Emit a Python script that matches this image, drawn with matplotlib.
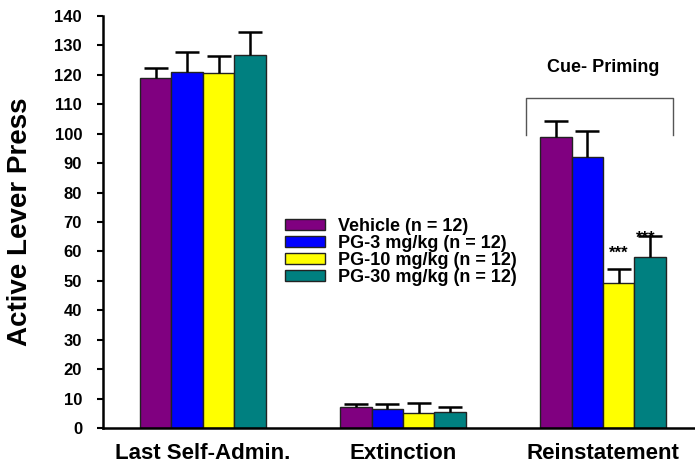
import matplotlib
matplotlib.use("Agg")
import matplotlib.pyplot as plt
import numpy as np

plt.rcParams['font.family'] = ['Liberation Sans', 'DejaVu Sans']
plt.rcParams['font.weight'] = 'bold'

# donnees
phases = ["Last Self-Admin.", "Extinction", "Reinstatement"]
groupes = ["Vehicle (n = 12)", "PG-3 mg/kg (n = 12)", "PG-10 mg/kg (n = 12)", "PG-30 mg/kg (n = 12)"]
couleurs = ["#800080", "#0000ff", "#ffff00", "#008080"]
vehicle = [118.8, 7.0, 99.0]
pg3 = [120.9, 6.6, 92.0]
pg10 = [120.7, 5.2, 49.2]
pg30 = [126.7, 5.5, 58.1]
err_vehicle = [3.6, 1.2, 5.3]
err_pg3 = [6.8, 1.6, 9.0]
err_pg10 = [5.6, 3.2, 4.7]
err_pg30 = [7.7, 1.5, 7.1]

moyennes = [vehicle, pg3, pg10, pg30]
erreurs = [err_vehicle, err_pg3, err_pg10, err_pg30]

fig = plt.figure(figsize=(6.95, 4.67), dpi=100)
ax = fig.add_axes([0.148, 0.0835, 0.852, 0.8822])

x = np.arange(len(phases))
w = 0.157
cap = 0.12
for i in range(4):
    pos = x + (i - 1.5) * w
    haut = np.array(moyennes[i]) + np.array(erreurs[i])
    ax.bar(pos, moyennes[i], w, color=couleurs[i], edgecolor="#222222", linewidth=1.0,
           label=groupes[i], zorder=2)
    # barres d'erreur vers le haut seulement
    ax.vlines(pos, moyennes[i], haut, color="black", linewidth=1.8, zorder=3)
    ax.hlines(haut, pos - cap / 2, pos + cap / 2, color="black", linewidth=1.8, zorder=3)

# crochet "Cue- Priming"
ax.plot([1.6175, 1.6175, 2.3525, 2.3525], [99.5, 112.2, 112.2, 99.5],
        color="#555555", linewidth=1.0, zorder=1)
ax.text(2.0, 122.5, "Cue- Priming", ha="center", va="center", fontsize=13, fontweight="bold")

# etoiles
ax.text(2 + 0.5 * w, 59.5, "***", ha="center", va="center", fontsize=12, fontweight="bold")
ax.text(2 + 1.35 * w, 64.5, "***", ha="center", va="center", fontsize=12, fontweight="bold")

ax.set_xlim(-0.5, 2.46)
ax.set_ylim(0, 140)
ax.set_yticks(np.arange(0, 141, 10))
ax.set_xticks(x)
ax.set_xticklabels(phases, fontsize=16, fontweight="bold")
ax.tick_params(axis="x", length=0, pad=11)
ax.tick_params(axis="y", direction="out", length=4, width=1.5, pad=11, labelsize=12)
for lab in ax.get_yticklabels():
    lab.set_fontweight("bold")

ax.spines["top"].set_visible(False)
ax.spines["right"].set_visible(False)
ax.spines["left"].set_linewidth(1.8)
ax.spines["bottom"].set_linewidth(1.8)

ax.set_ylabel("Active Lever Press", fontsize=20, fontweight="bold")
ax.yaxis.set_label_coords(-0.118, 0.5)

leg = fig.legend(loc="center left", bbox_to_anchor=(285 / 695, 1 - 252 / 467),
                 frameon=False, borderpad=0, borderaxespad=0,
                 handlelength=2.2, handleheight=0.55, handletextpad=0.72, labelspacing=0.0,
                 prop={"weight": "bold", "size": 13})

fig.savefig("out.png", dpi=100)
